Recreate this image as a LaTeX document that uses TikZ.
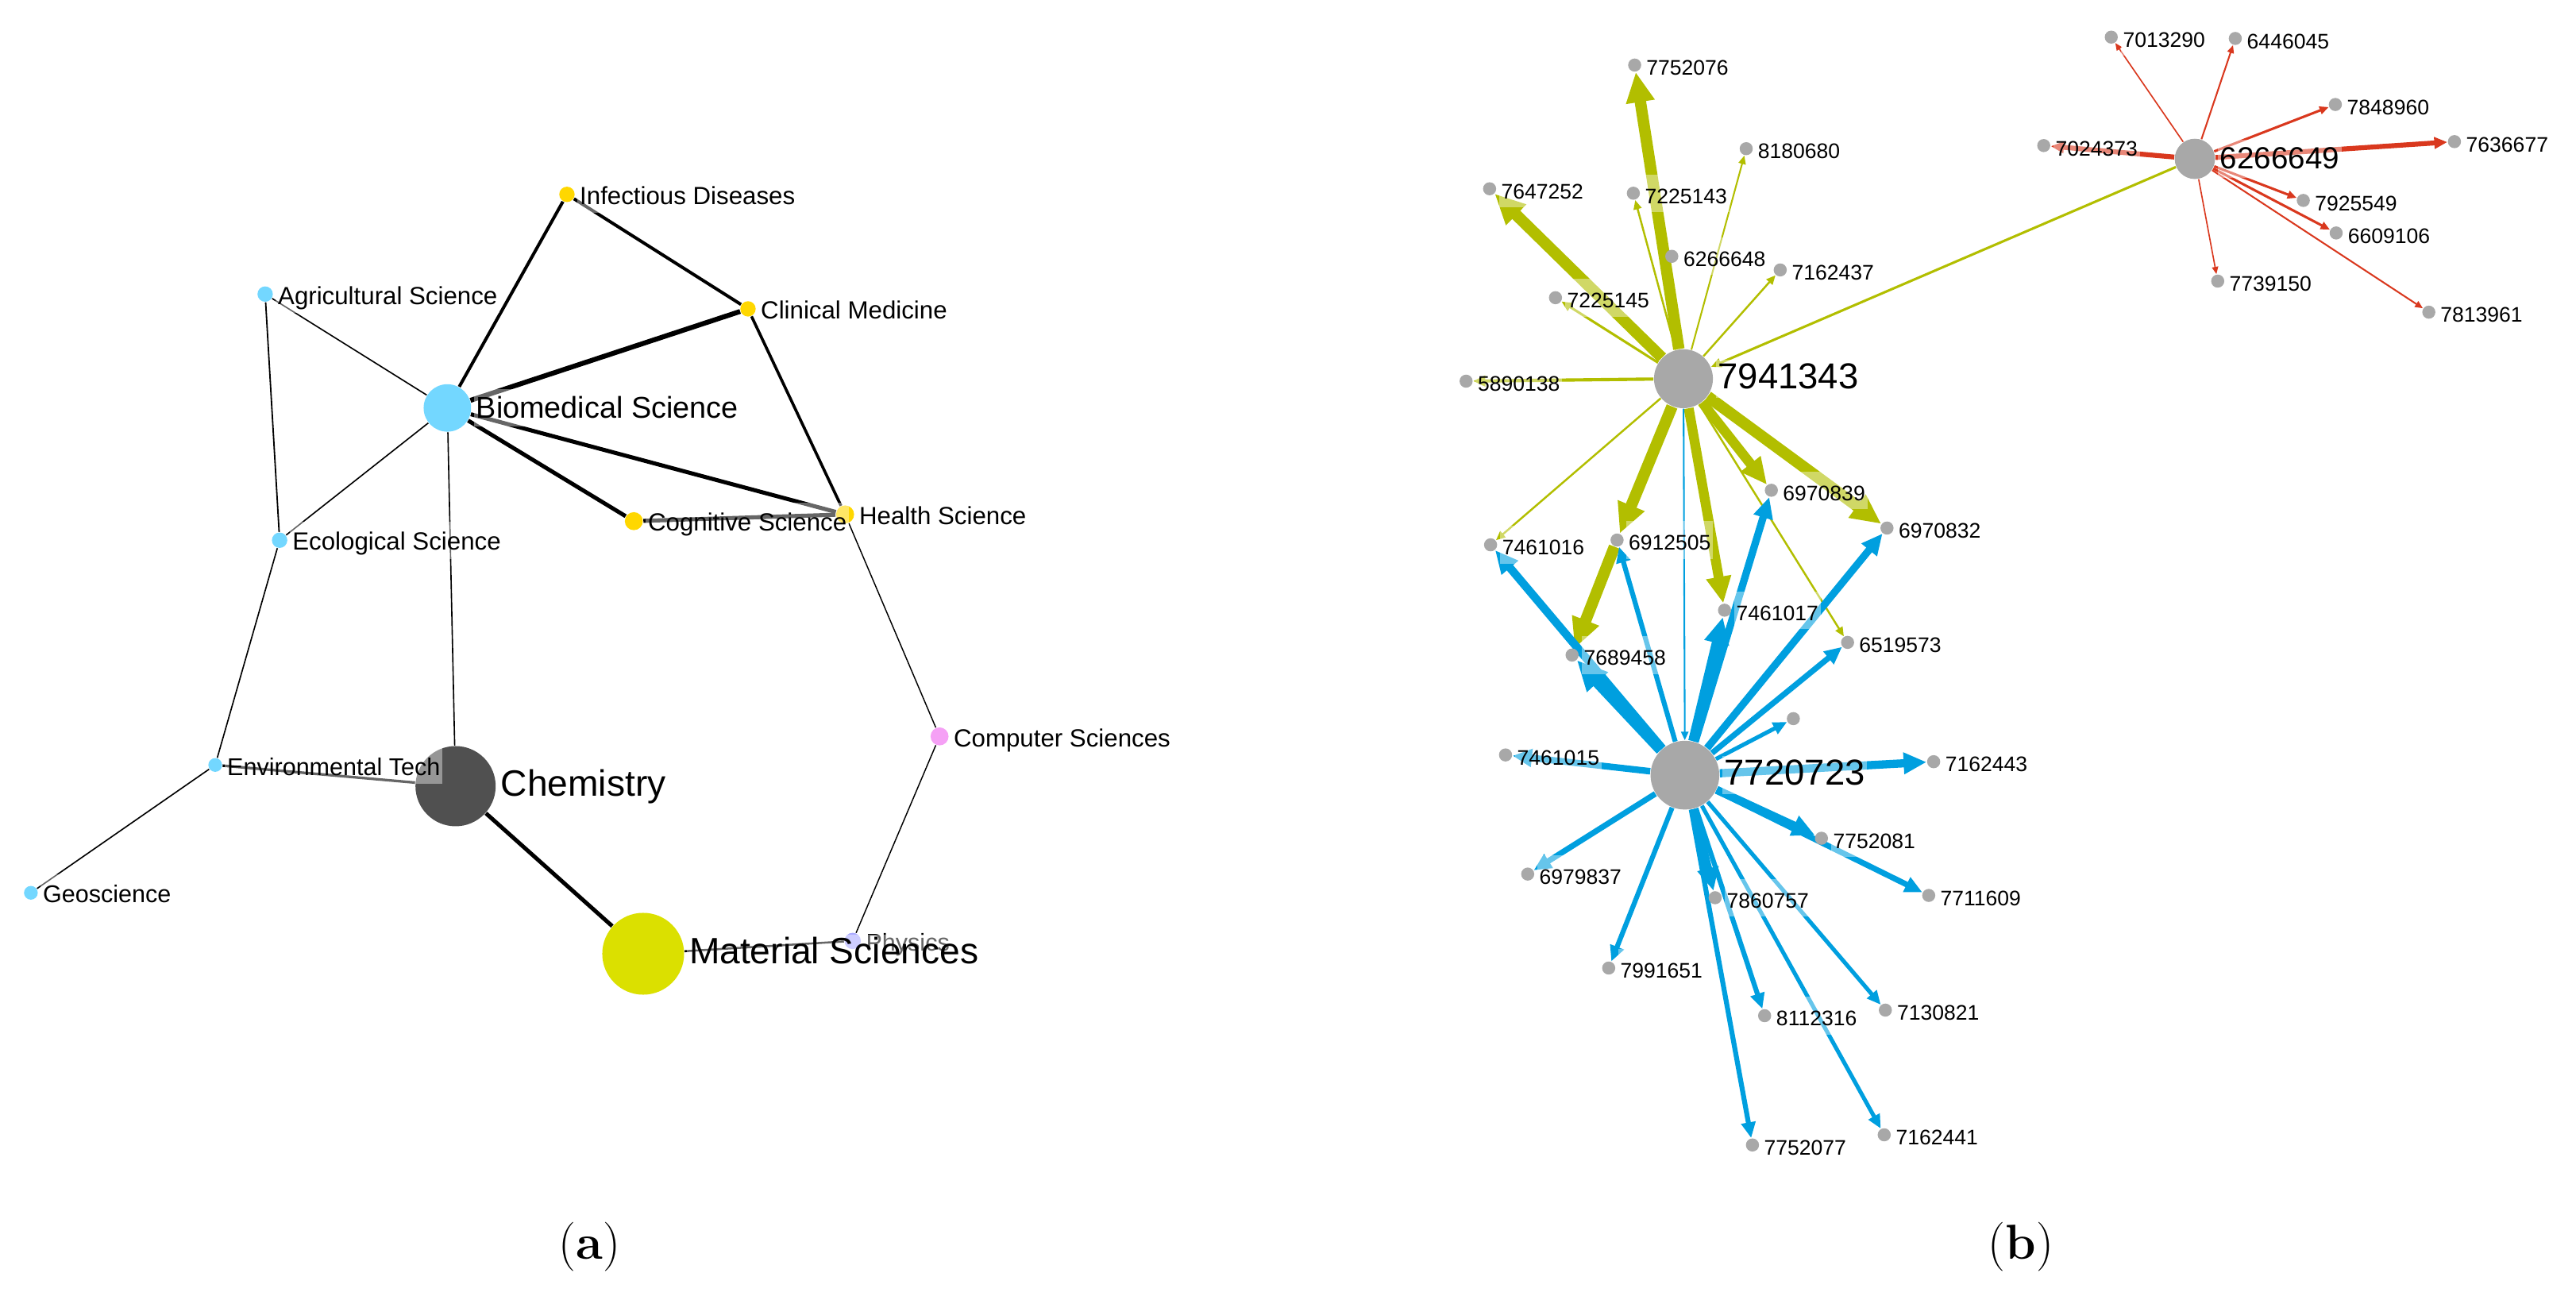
\documentclass[tikz,border=0pt]{standalone}
\usepackage{fontspec}
\usetikzlibrary{arrows.meta}
\newfontfamily\labfont{Liberation Sans}
\definecolor{cblue}{HTML}{73D7FF}
\definecolor{cgold}{HTML}{FFD700}
\definecolor{cpink}{HTML}{F5A0F5}
\definecolor{clav}{HTML}{AAAAFF}
\definecolor{cchem}{HTML}{505050}
\definecolor{cmat}{HTML}{DBE000}
\definecolor{cgray}{HTML}{A8A8A8}
\definecolor{olv}{HTML}{B2BE00}
\definecolor{eblue}{HTML}{009FDF}
\definecolor{ered}{HTML}{D9381E}
\pgfdeclarelayer{edgelayer}
\pgfdeclarelayer{labellayer}
\pgfsetlayers{edgelayer,main,labellayer}
\tikzset{
  vtx/.style={circle, inner sep=0pt, draw=none, minimum size=#1*1.134pt},
  lab/.style={anchor=west, font=\labfont\fontsize{#1pt}{#1pt}\selectfont,
    fill=white, fill opacity=0.4, text opacity=1,
    inner xsep=0.8pt, inner ysep=1.5pt, text height=0.85em, text depth=0.15em},
  ledge/.style={draw=black, line width=#1pt},
  oarr/.style={draw=olv, line width=#1*0.567pt, -{Triangle[length=1.7pt 2.2, width=1.4pt 2]}},
  barr/.style={draw=eblue, line width=#1*0.567pt, -{Triangle[length=1.7pt 2.2, width=1.4pt 2]}},
  rarr/.style={draw=ered, line width=#1*0.567pt, -{Triangle[length=1.8pt 1.6, width=1.5pt 1.4]}},
  capt/.style={font=\fontsize{17pt}{20pt}\selectfont},
}
\begin{document}
\begin{tikzpicture}[x=0.02cm,y=-0.02cm]
\useasboundingbox (0,0) rectangle (1568,791);

% ---------------- panel (a): nodes
\node[vtx=4.7, fill=cgold] (inf) at (345.1,118.3) {};
\node[vtx=4.7, fill=cblue] (agr) at (161.4,179) {};
\node[vtx=4.7, fill=cgold] (cli) at (455.3,188) {};
\node[vtx=14.5, fill=cblue] (bio) at (272.3,248.3) {};
\node[vtx=5.5, fill=cgold] (cog) at (385.8,317.2) {};
\node[vtx=5.5, fill=cgold] (hea) at (514.4,313.1) {};
\node[vtx=4.7, fill=cblue] (eco) at (170.2,328.8) {};
\node[vtx=4.2, fill=cblue] (env) at (131,465.6) {};
\node[vtx=24.5, fill=cchem] (chem) at (277.3,478.5) {};
\node[vtx=4.2, fill=cblue] (geo) at (18.8,543.4) {};
\node[vtx=25, fill=cmat] (mat) at (391.5,580.5) {};
\node[vtx=5, fill=clav] (phy) at (519,572.7) {};
\node[vtx=5.5, fill=cpink] (com) at (571.9,448.2) {};

% ---------------- panel (b): nodes
\node[vtx=18, fill=cgray] (h1) at (1024.7,230.5) {};
\node[vtx=21, fill=cgray] (h2) at (1025.6,471.8) {};
\node[vtx=12.3, fill=cgray] (h3) at (1336,96.7) {};
\foreach \n/\x/\y in {7752076/995/39.6, 8180680/1062.9/90.5, 7647252/906.7/114.9,
  7225143/994.2/117.6, 6266648/1017.6/156, 7162437/1083.6/164.3, 7225145/946.8/181.2,
  5890138/892.4/232, 7013290/1285.1/22.6, 6446045/1360.6/23.4, 7848960/1421.5/63.6,
  7024373/1244/88.6, 7636677/1494/86.2, 7925549/1402/122, 6609106/1422/141.8,
  7739150/1349.9/171.1, 7813961/1478.4/190, 6970839/1078.2/298.4, 6970832/1148.6/321.4,
  7461016/907.3/331.6, 6912505/984.3/328.7, 7461017/1049.7/371.4, 6519573/1124.6/391,
  7689458/956.9/398.7, unl/1091.6/437.4, 7461015/916.4/459.5, 7162443/1177/463.6,
  7752081/1108.7/510.2, 7711609/1174/545, 6979837/929.9/532, 7860757/1044/546.4,
  7991651/979.2/589.2, 8112316/1074.1/618.2, 7130821/1147.6/614.8, 7752077/1066.7/696.9,
  7162441/1146.9/690.7}
  \node[vtx=4, fill=cgray] (n\n) at (\x,\y) {};

% ---------------- edges
\begin{pgfonlayer}{edgelayer}
% panel (a)
\draw[ledge=1.1] (bio) -- (inf);
\draw[ledge=1.1] (inf) -- (cli);
\draw[ledge=1.7] (bio) -- (cli);
\draw[ledge=1.4] (bio) -- (hea);
\draw[ledge=1.4] (bio) -- (cog);
\draw[ledge=1.0] (cli) -- (hea);
\draw[ledge=1.4] (cog) -- (hea);
\draw[ledge=0.45] (bio) -- (agr);
\draw[ledge=0.5] (agr) -- (eco);
\draw[ledge=0.45] (bio) -- (eco);
\draw[ledge=0.45] (bio) -- (chem);
\draw[ledge=0.45] (eco) -- (env);
\draw[ledge=0.45] (env) -- (geo);
\draw[ledge=0.9] (env) -- (chem);
\draw[ledge=1.4] (chem) -- (mat);
\draw[ledge=0.7] (mat) -- (phy);
\draw[ledge=0.4] (phy) -- (com);
\draw[ledge=0.4] (com) -- (hea);
% panel (b): olive
\draw[oarr=7] (h1) -- (n7752076);
\draw[oarr=7] (h1) -- (n7647252);
\draw[oarr=1.2] (h1) -- (n7225143);
\draw[oarr=1] (h1) -- (n8180680);
\draw[oarr=1.2] (h1) -- (n7162437);
\draw[oarr=1.5] (h1) -- (n7225145);
\draw[oarr=2] (h1) -- (n5890138);
\draw[oarr=1.2] (h1) -- (n7461016);
\draw[oarr=7] (h1) -- (n6912505);
\draw[oarr=7] (n6912505) -- (n7689458);
\draw[oarr=6] (h1) -- (n7461017);
\draw[oarr=6] (h1) -- (n6970839);
\draw[oarr=7] (h1) -- (n6970832);
\draw[oarr=1.2] (h1) -- (n6519573);
\draw[oarr=1.5] (h3) -- (h1);
% panel (b): blue
\draw[barr=1] (h1) -- (h2);
\draw[barr=5] (h2) -- (n7461016);
\draw[barr=7] (h2) -- (n7689458);
\draw[barr=3] (h2) -- (n6912505);
\draw[barr=6] (h2) -- (n7461017);
\draw[barr=4.5] (h2) -- (n6970839);
\draw[barr=4.5] (h2) -- (n6970832);
\draw[barr=3.5] (h2) -- (n6519573);
\draw[barr=2.5] (h2) -- (nunl);
\draw[barr=4] (h2) -- (n7461015);
\draw[barr=5] (h2) -- (n7162443);
\draw[barr=5] (h2) -- (n7752081);
\draw[barr=3.5] (h2) -- (n7711609);
\draw[barr=3.5] (h2) -- (n6979837);
\draw[barr=3] (h2) -- (n7991651);
\draw[barr=5] (h2) -- (n7860757);
\draw[barr=3] (h2) -- (n8112316);
\draw[barr=2.5] (h2) -- (n7130821);
\draw[barr=3] (h2) -- (n7752077);
\draw[barr=2.5] (h2) -- (n7162441);
% panel (b): red
\draw[rarr=0.8] (h3) -- (n7013290);
\draw[rarr=1] (h3) -- (n6446045);
\draw[rarr=1.5] (h3) -- (n7848960);
\draw[rarr=3] (h3) -- (n7024373);
\draw[rarr=3] (h3) -- (n7636677);
\draw[rarr=1.5] (h3) -- (n7925549);
\draw[rarr=1.5] (h3) -- (n6609106);
\draw[rarr=0.8] (h3) -- (n7739150);
\draw[rarr=1] (h3) -- (n7813961);
\end{pgfonlayer}

% ---------------- labels
\begin{pgfonlayer}{labellayer}
\node[lab=8.6] (linf) at ([xshift=0.6pt]inf.east) {Infectious Diseases};
\node[lab=8.6] (lagr) at ([xshift=0.6pt]agr.east) {Agricultural Science};
\node[lab=8.6] (lcli) at ([xshift=0.6pt]cli.east) {Clinical Medicine};
\node[lab=10.4] (lbio) at ([xshift=0.6pt]bio.east) {Biomedical Science};
\node[lab=8.6] (lhea) at ([xshift=0.6pt]hea.east) {Health Science};
\node[lab=8.6] (lcog) at ([xshift=0.6pt]cog.east) {Cognitive Science};
\node[lab=8.6] (leco) at ([xshift=0.6pt]eco.east) {Ecological Science};
\node[lab=8.6] (lcom) at ([xshift=0.6pt]com.east) {Computer Sciences};
\node[lab=8.4] (lenv) at ([xshift=0.6pt]env.east) {Environmental Tech};
\node[lab=12.7] (lchem) at ([xshift=0.6pt]chem.east) {Chemistry};
\node[lab=8.4] (lgeo) at ([xshift=0.6pt]geo.east) {Geoscience};
\node[lab=8.4] (lphy) at ([xshift=0.6pt]phy.east) {Physics};
\node[lab=12.7] (lmat) at ([xshift=0.6pt]mat.east) {Material Sciences};

\node[lab=12.5] (lh1) at ([xshift=0.6pt]h1.east) {7941343};
\node[lab=12.5] (lh2) at ([xshift=0.6pt]h2.east) {7720723};
\node[lab=10.6] (lh3) at ([xshift=0.6pt]h3.east) {6266649};
\foreach \n in {7752076, 8180680, 7647252, 7225143, 6266648, 7162437, 7225145,
  5890138, 7013290, 6446045, 7848960, 7024373, 7636677, 7925549, 6609106,
  7739150, 7813961, 6970839, 6970832, 7461016, 6912505, 7461017, 6519573,
  7689458, 7461015, 7162443, 7752081, 7711609, 6979837, 7860757,
  7991651, 8112316, 7130821, 7752077, 7162441}
  \node[lab=7.3] (l\n) at ([xshift=0.6pt]n\n.east) {\n};
\end{pgfonlayer}

% ---------------- captions
\node[capt] (capa) at (359,759) {(\textbf{a})};
\node[capt] (capb) at (1230,759) {(\textbf{b})};
\end{tikzpicture}
\end{document}
